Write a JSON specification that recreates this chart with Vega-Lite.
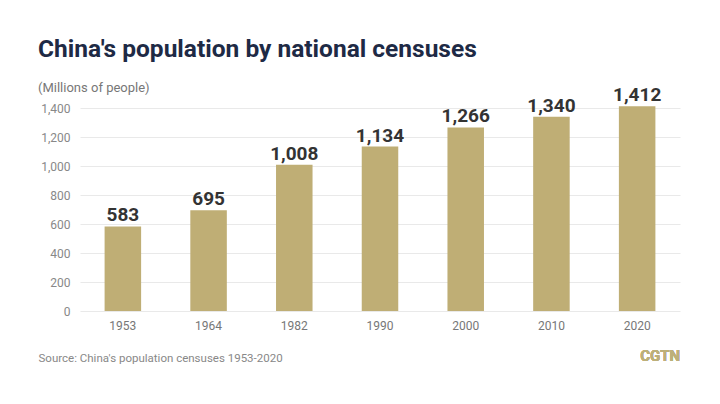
{
  "$schema": "https://vega.github.io/schema/vega-lite/v6.json",
  "width": 600,
  "height": 203,
  "autosize": "none",
  "padding": {"left": 80, "top": 108, "right": 40, "bottom": 93},
  "background": "white",
  "config": {
    "view": {"stroke": null},
    "font": "Roboto"
  },
  "title": {
    "text": "China's population by national censuses",
    "subtitle": "(Millions of people)",
    "anchor": "start",
    "frame": "group",
    "dx": -42,
    "offset": -10,
    "font": "Roboto",
    "fontSize": 24.5,
    "fontWeight": "bold",
    "color": "#1e2a45",
    "subtitleFont": "Roboto",
    "subtitleFontSize": 13,
    "subtitleColor": "#777777",
    "subtitlePadding": 20
  },
  "data": {
    "values": [
      {"year": "1953", "population": 583},
      {"year": "1964", "population": 695},
      {"year": "1982", "population": 1008},
      {"year": "1990", "population": 1134},
      {"year": "2000", "population": 1266},
      {"year": "2010", "population": 1340},
      {"year": "2020", "population": 1412}
    ]
  },
  "encoding": {
    "x": {
      "field": "year",
      "type": "nominal",
      "sort": null,
      "scale": {"paddingInner": 0.574, "paddingOuter": 0.287},
      "axis": {
        "title": "Source: China's population censuses 1953-2020",
        "titleAnchor": "start",
        "titleAlign": "left",
        "titleBaseline": "alphabetic",
        "titleX": -42,
        "titleY": 50,
        "titleFont": "Roboto",
        "titleFontSize": 11.5,
        "titleFontWeight": "normal",
        "titleColor": "#888888",
        "labelAngle": 0,
        "labelFont": "Roboto",
        "labelFontSize": 12,
        "labelColor": "#777777",
        "labelPadding": 9,
        "ticks": false,
        "domain": false
      }
    },
    "y": {
      "field": "population",
      "type": "quantitative",
      "scale": {"domain": [0, 1400], "nice": false},
      "axis": {
        "title": null,
        "values": [0, 200, 400, 600, 800, 1000, 1200, 1400],
        "format": ",d",
        "labelFont": "Roboto",
        "labelFontSize": 12,
        "labelColor": "#888888",
        "labelPadding": 10,
        "ticks": false,
        "domain": false,
        "gridColor": "#e9e9e9",
        "gridWidth": 1
      }
    }
  },
  "layer": [
    {
      "mark": {"type": "bar", "color": "#bfae75"}
    },
    {
      "mark": {
        "type": "text",
        "baseline": "alphabetic",
        "dy": -5,
        "font": "Roboto",
        "fontSize": 19,
        "fontWeight": "bold",
        "color": "#333333"
      },
      "encoding": {
        "text": {"field": "population", "type": "quantitative", "format": ",d"}
      }
    },
    {
      "mark": {
        "type": "text",
        "align": "right",
        "baseline": "alphabetic",
        "dx": 43,
        "font": "Roboto",
        "fontSize": 15,
        "fontWeight": "bold",
        "color": "#bdb07a"
      },
      "encoding": {
        "x": {"datum": "2020"},
        "y": {"datum": -345},
        "text": {"value": "CGTN"}
      }
    }
  ]
}
